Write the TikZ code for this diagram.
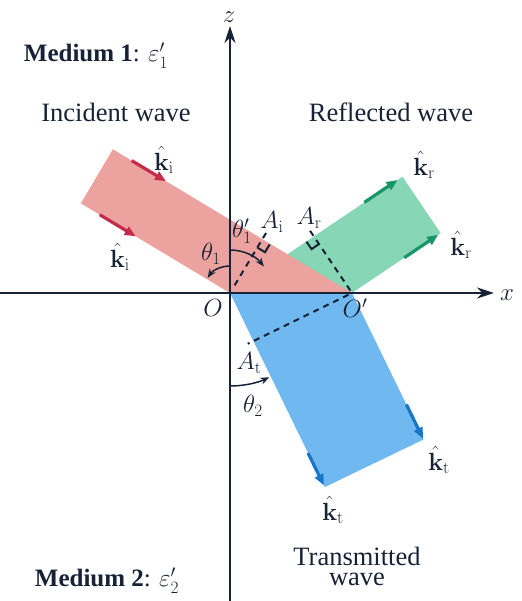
\documentclass[tikz,border=0pt]{standalone}
\usepackage[no-math]{fontspec}
\setmainfont{Liberation Serif}
\usetikzlibrary{calc,arrows.meta}
\definecolor{pinkbeam}{RGB}{236,162,158}
\definecolor{greenbeam}{RGB}{135,214,182}
\definecolor{bluebeam}{RGB}{112,184,240}
\definecolor{redarrow}{RGB}{196,44,76}
\definecolor{greenarrow}{RGB}{24,150,104}
\definecolor{bluearrow}{RGB}{24,118,200}
\definecolor{axiscol}{RGB}{24,34,54}
\begin{document}
\begin{tikzpicture}[x=1pt,y=1pt,
  axisline/.style={line width=2.4pt, draw=axiscol, -{Stealth[length=17pt,width=11pt]}},
  beamarrow/.style={line width=3.2pt, -{Triangle[length=11pt,width=9pt]}},
  dashline/.style={line width=2pt, draw=axiscol, dash pattern=on 6pt off 5pt},
  rightmark/.style={line width=2pt, draw=axiscol},
  anglearc/.style={line width=1.5pt, draw=axiscol, -{Stealth[length=9pt,width=7pt]}},
  lbl/.style={font=\fontsize{26.5}{30}\selectfont, text=axiscol, inner sep=0pt},
  medlbl/.style={font=\fontsize{25}{28}\selectfont, text=axiscol, inner sep=0pt},
  mlbl/.style={font=\fontsize{24}{28}\selectfont, text=axiscol, inner sep=0pt}]
\useasboundingbox (0,0) rectangle (521,601);

% key points
\coordinate (O) at (230,308);
\coordinate (Op) at (352,308);
% incident beam corners
\coordinate (ITL) at ($(Op)+(149:279)$);
\coordinate (IL) at ($(O)+(149:174)$);
% reflected beam corners
\coordinate (RT1) at ($(O)+(34:208)$);
\coordinate (RT2) at ($(Op)+(34:107)$);
% transmitted beam corners
\coordinate (TB1) at ($(O)+(-64:216)$);
\coordinate (TB2) at ($(Op)+(-64:163)$);

% beams
\fill[greenbeam] (O) -- (Op) -- (RT2) -- (RT1) -- cycle;
\fill[pinkbeam] (O) -- (Op) -- (ITL) -- (IL) -- cycle;
\fill[bluebeam] (O) -- (Op) -- (TB2) -- (TB1) -- cycle;

% axes
\coordinate (xl) at (0,308);
\coordinate (xr) at (494,308);
\coordinate (zb) at (230,0);
\coordinate (zt) at (230,575);
\draw[axisline] (xl) -- (xr);
\draw[axisline] (zb) -- (zt);

% beam arrows
\draw[beamarrow, redarrow] ($(ITL)!22pt!(Op)$) -- ($(ITL)!62pt!(Op)$);
\draw[beamarrow, redarrow] ($(IL)!22pt!(O)$) -- ($(IL)!64pt!(O)$);
\draw[beamarrow, greenarrow] ($(RT1)!46pt!(O)$) -- ($(RT1)!6pt!(O)$);
\draw[beamarrow, greenarrow] ($(RT2)!44pt!(Op)$) -- ($(RT2)!3pt!(Op)$);
\draw[beamarrow, bluearrow] ($(TB2)!39pt!(Op)$) -- ($(TB2)!1pt!(Op)$);
\draw[beamarrow, bluearrow] ($(TB1)!38pt!(O)$) -- ($(TB1)!2pt!(O)$);

% wavefront dashed lines
\coordinate (Ai) at ($(O)+(59:62)$);
\coordinate (AiS) at ($(O)+(59:9)$);
\coordinate (AiE) at ($(O)+(59:71)$);
\draw[dashline] (AiS) -- (AiE);
\draw[rightmark] ($(Ai)+(239:9)$) -- ++(-31:9) -- ($(Ai)+(-31:9)$);

\coordinate (Ar) at ($(Op)+(124:68)$);
\coordinate (ArS) at ($(Op)+(124:3)$);
\coordinate (ArE) at ($(Op)+(124:76)$);
\draw[dashline] (ArS) -- (ArE);
\draw[rightmark] ($(Ar)+(-56:9)$) -- ++(214:9) -- ($(Ar)+(214:9)$);

\coordinate (AtS) at ($(Op)+(206:4)$);
\coordinate (AtE) at ($(Op)+(206:116)$);
\draw[dashline] (AtS) -- (AtE);

% angle arcs
\draw[anglearc] ($(O)+(90:27)$) arc[start angle=90, end angle=146, radius=27];
\draw[anglearc] ($(O)+(90:43)$) arc[start angle=90, end angle=38, radius=43];
\draw[anglearc] ($(O)+(-90:93)$) arc[start angle=-90, end angle=-65, radius=93];

% labels
\node[mlbl] (lz) at (229,584) {$z$};
\node[mlbl] (lx) at (507,306) {$x$};
\node[mlbl] (lO) at (213,293) {$O$};
\node[mlbl] (lOp) at (355,293) {$O'$};
\node[mlbl] (lth1) at (211,347) {$\theta_1$};
\node[mlbl] (lth1p) at (242,370) {$\theta_1'$};
\node[mlbl] (lth2) at (253,195) {$\theta_2$};
\node[mlbl] (lAi) at (272,379) {$A_{\mathrm{i}}$};
\node[mlbl] (lAr) at (309,383) {$A_{\mathrm{r}}$};
\node[mlbl] (lAt) at (249,238) {$A_{\mathrm{t}}$};
\node[mlbl] (lki1) at (164,441) {$\hat{\mathbf{k}}_{\mathrm{i}}$};
\node[mlbl] (lki2) at (120,344) {$\hat{\mathbf{k}}_{\mathrm{i}}$};
\node[mlbl] (lkr1) at (424,436) {$\hat{\mathbf{k}}_{\mathrm{r}}$};
\node[mlbl] (lkr2) at (461,356) {$\hat{\mathbf{k}}_{\mathrm{r}}$};
\node[mlbl] (lkt1) at (439,141) {$\hat{\mathbf{k}}_{\mathrm{t}}$};
\node[mlbl] (lkt2) at (333,91) {$\hat{\mathbf{k}}_{\mathrm{t}}$};

\node[medlbl, anchor=base] (med1) at (96,539) {\textbf{Medium 1}: $\varepsilon_1'$};
\node[lbl, anchor=base] (inc) at (116,479) {Incident wave};
\node[lbl, anchor=base] (refl) at (391,479) {Reflected wave};
\node[lbl, anchor=base] (trans1) at (357,35) {Transmitted};
\node[lbl, anchor=base] (trans2) at (357,16) {wave};
\node[medlbl, anchor=base] (med2) at (107,14) {\textbf{Medium 2}: $\varepsilon_2'$};
\end{tikzpicture}
\end{document}
